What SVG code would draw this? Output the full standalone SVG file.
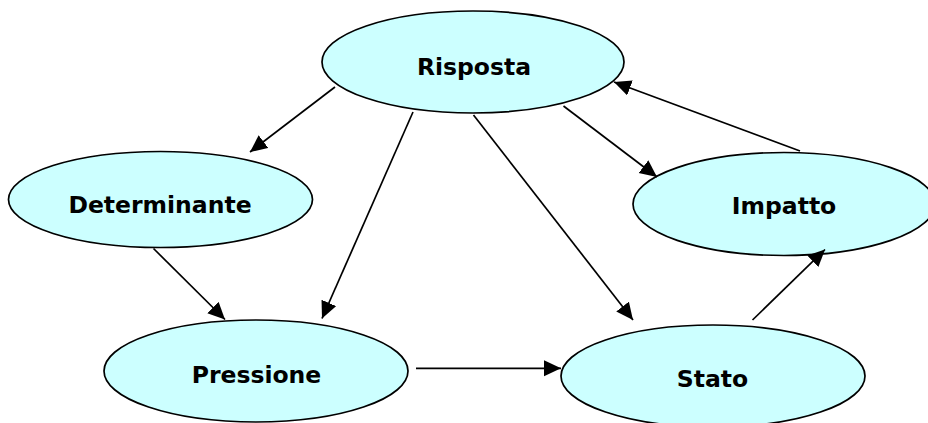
<svg xmlns="http://www.w3.org/2000/svg" width="928" height="423" viewBox="0 0 928 423">
<style>
.node ellipse{fill:#CCFFFF;stroke:#000;stroke-width:1.7}
.node text{font-family:"DejaVu Sans","Verdana",sans-serif;font-weight:bold;font-size:23.5px;fill:#000;text-anchor:middle}
.edges line{stroke:#000;stroke-width:1.7;marker-end:url(#arr)}
</style>
<defs>
<marker id="arr" markerUnits="userSpaceOnUse" markerWidth="19" markerHeight="18" refX="17" refY="8" orient="auto">
<path d="M0,0 L17,8 L0,16 Z" fill="#000"/>
</marker>
</defs>
<rect width="928" height="423" fill="#fff"/>
<g id="risposta" class="node"><ellipse cx="473" cy="62" rx="151" ry="51"/><text x="474" y="75">Risposta</text></g>
<g id="determinante" class="node"><ellipse cx="160.5" cy="199.5" rx="152" ry="48"/><text x="160" y="213">Determinante</text></g>
<g id="impatto" class="node"><ellipse cx="784" cy="204" rx="151" ry="51.5"/><text x="784" y="214">Impatto</text></g>
<g id="pressione" class="node"><ellipse cx="256" cy="371" rx="152" ry="51"/><text x="256.5" y="383">Pressione</text></g>
<g id="stato" class="node"><ellipse cx="713" cy="376" rx="152" ry="51"/><text x="712.5" y="387">Stato</text></g>
<g id="connectors" class="edges">
<line x1="335" y1="87" x2="250" y2="152"/>
<line x1="413" y1="112" x2="322" y2="318.5"/>
<line x1="153.5" y1="248.5" x2="225" y2="319.5"/>
<line x1="473.5" y1="115" x2="633" y2="320"/>
<line x1="563.5" y1="106" x2="657" y2="177"/>
<line x1="800" y1="151" x2="614" y2="82"/>
<line x1="752.5" y1="320" x2="825" y2="249.5"/>
<line x1="416" y1="368.3" x2="561" y2="368.3"/>
</g>
</svg>
